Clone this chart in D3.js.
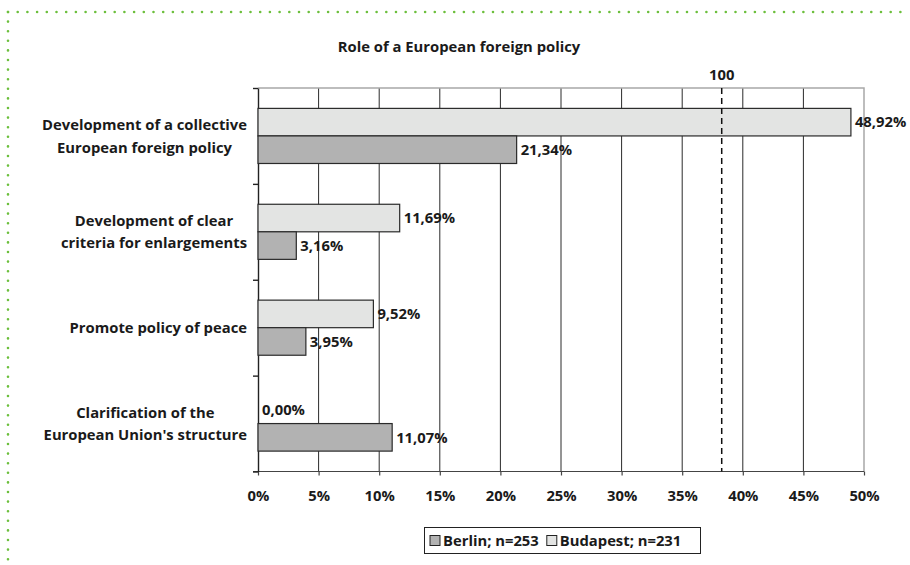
<!DOCTYPE html>
<html>
<head>
    <meta charset="utf-8">
    <script src="https://d3js.org/d3.v7.min.js"></script>
    <style>
        body { margin: 0; background: #ffffff; }
        text { font-family: 'Open Sans', sans-serif; font-weight: 700; fill: #1a1a1a; }
    </style>
</head>
<body>
    <svg id="chart" width="910" height="565"></svg>
    <script>
        // chart values
        var categories = [
            ["Development of a collective", "European foreign policy"],
            ["Development of clear", "criteria for enlargements"],
            ["Promote policy of peace"],
            ["Clarification of the", "European Union's structure"]
        ];
        var budapest = [48.92, 11.69, 9.52, 0.00];
        var berlin = [21.34, 3.16, 3.95, 11.07];
        var seriesNames = ["Budapest", "Berlin"];
        var legendLabels = ["Berlin; n=253", "Budapest; n=231"];
        var xTicks = [0, 5, 10, 15, 20, 25, 30, 35, 40, 45, 50];
        var refValue = 38.26;
        var refLabel = "100";
        var title = "Role of a European foreign policy";

        var colors = { Budapest: "#e3e4e3", Berlin: "#b2b2b2" };
        var fontSize = "14.8px";

        var svg = d3.select("#chart");
        var plotLeft = 258, plotRight = 864, plotTop = 88, plotBottom = 471.5;

        // green dotted frame
        svg.append("line")
            .attr("x1", 8).attr("x2", 910).attr("y1", 12).attr("y2", 12)
            .style("stroke", "#6cbf3c").style("stroke-width", 2.6)
            .style("stroke-linecap", "round").style("stroke-dasharray", "0,9.7");
        svg.append("line")
            .attr("x1", 8).attr("x2", 8).attr("y1", 12).attr("y2", 565)
            .style("stroke", "#6cbf3c").style("stroke-width", 2.6)
            .style("stroke-linecap", "round").style("stroke-dasharray", "0,9.6");

        var x = d3.scaleLinear().domain([0, 50]).range([plotLeft, plotRight]);
        var keys = categories.map(function (d) { return d.join(" "); });
        var y = d3.scaleBand().domain(keys).range([plotTop, plotBottom]);
        var yInner = d3.scaleBand().domain(seriesNames)
            .range([0, y.bandwidth()]).paddingInner(0).paddingOuter(0.74);
        var yEdge = d3.scaleLinear().domain([0, categories.length]).range([plotTop, plotBottom]);

        var fmt = function (v) { return v.toFixed(2).replace(".", ",") + "%"; };

        svg.append("text")
            .attr("x", 459).attr("y", 52)
            .attr("text-anchor", "middle")
            .style("font-size", fontSize)
            .text(title);

        // gridlines
        svg.append("g").selectAll("line")
            .data(xTicks.slice(1, -1))
            .enter().append("line")
            .attr("x1", function (d) { return x(d); })
            .attr("x2", function (d) { return x(d); })
            .attr("y1", plotTop).attr("y2", plotBottom)
            .style("stroke", "#2a2a2a").style("stroke-width", 1);

        // top and right border
        svg.append("path")
            .attr("d", "M" + plotLeft + "," + plotTop + "H" + x(50) + "V" + plotBottom)
            .style("fill", "none").style("stroke", "#a8a8a8").style("stroke-width", 1.5);

        // x axis
        var xAxis = svg.append("g")
            .attr("transform", "translate(0," + plotBottom + ")")
            .call(d3.axisBottom(x).tickValues(xTicks).tickSize(4).tickSizeOuter(0)
                .tickFormat(function (d) { return d + "%"; }));
        xAxis.selectAll("line,path").style("stroke", "#444").style("stroke-width", 1.2);
        xAxis.select(".domain").attr("d", "M" + (plotLeft - 5) + ",0H" + x(50));
        xAxis.selectAll("text")
            .attr("y", 19)
            .style("font-family", "'Open Sans', sans-serif")
            .style("font-weight", "700")
            .style("font-size", fontSize)
            .style("fill", "#1a1a1a");

        // y axis
        var yAxis = svg.append("g")
            .attr("transform", "translate(" + plotLeft + ",0)")
            .call(d3.axisLeft(yEdge).ticks(categories.length).tickSize(5).tickSizeOuter(0).tickFormat(""));
        yAxis.selectAll("line,path").style("stroke", "#222").style("stroke-width", 1.4);

        // bars
        var rows = keys.map(function (k, i) {
            return { key: k, Budapest: budapest[i], Berlin: berlin[i] };
        });
        var groups = svg.append("g").selectAll("g")
            .data(rows).enter().append("g")
            .attr("transform", function (d) { return "translate(0," + y(d.key) + ")"; });

        seriesNames.forEach(function (s) {
            groups.filter(function (d) { return d[s] > 0; })
                .append("rect")
                .attr("x", x(0))
                .attr("y", yInner(s))
                .attr("width", function (d) { return x(d[s]) - x(0); })
                .attr("height", yInner.bandwidth())
                .style("fill", colors[s])
                .style("stroke", "#2a2a2a")
                .style("stroke-width", 1.2);
            groups.append("text")
                .attr("x", function (d) { return x(d[s]) + 4; })
                .attr("y", yInner(s) + yInner.bandwidth() / 2)
                .attr("dy", "0.36em")
                .style("font-size", fontSize)
                .text(function (d) { return fmt(d[s]); });
        });

        // reference line
        svg.append("line")
            .attr("x1", x(refValue)).attr("x2", x(refValue))
            .attr("y1", plotTop).attr("y2", plotBottom)
            .style("stroke", "#111").style("stroke-width", 1.5)
            .style("stroke-dasharray", "6,4");
        svg.append("text")
            .attr("x", x(refValue)).attr("y", 80)
            .attr("text-anchor", "middle")
            .style("font-size", fontSize)
            .text(refLabel);

        // category labels: block right aligned, lines centred in block
        categories.forEach(function (lines, i) {
            var g = svg.append("g");
            var texts = lines.map(function (line, j) {
                return g.append("text")
                    .attr("text-anchor", "middle")
                    .attr("y", y(keys[i]) + y.bandwidth() / 2 + (j - (lines.length - 1) / 2) * 22.5)
                    .attr("dy", "0.36em")
                    .style("font-size", fontSize)
                    .text(line);
            });
            var w = d3.max(texts, function (t) { return t.node().getComputedTextLength(); });
            texts.forEach(function (t) { t.attr("x", 247 - w / 2); });
        });

        // legend
        var legend = svg.append("g");
        legend.append("rect")
            .attr("x", 424.5).attr("y", 527.5).attr("width", 276).attr("height", 26)
            .style("fill", "#fff").style("stroke", "#222").style("stroke-width", 1);
        var lx = 430;
        legendLabels.forEach(function (label, i) {
            var s = i === 0 ? "Berlin" : "Budapest";
            legend.append("rect")
                .attr("x", lx).attr("y", 535.5).attr("width", 10).attr("height", 10)
                .style("fill", colors[s]).style("stroke", "#222").style("stroke-width", 1);
            var t = legend.append("text")
                .attr("x", lx + 13).attr("y", 541).attr("dy", "0.36em")
                .style("font-size", fontSize)
                .text(label);
            lx += 13 + t.node().getComputedTextLength() + 8;
        });
    </script>
</body>
</html>
